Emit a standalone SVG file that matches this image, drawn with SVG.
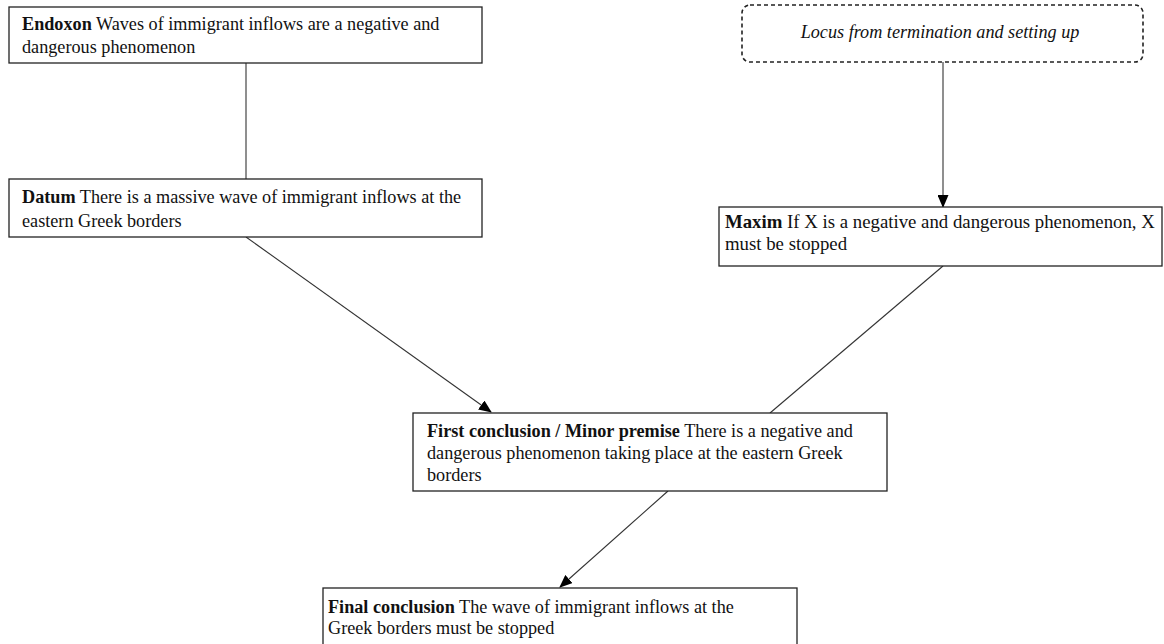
<svg xmlns="http://www.w3.org/2000/svg" width="1164" height="644" viewBox="0 0 1164 644">
<style>
.box{fill:#fff;stroke:#222;stroke-width:1.3}
.dash{fill:#fff;stroke:#222;stroke-width:1.6;stroke-dasharray:4,3}
.t{font-family:"Liberation Serif","Times New Roman",serif;font-size:18.2px;fill:#111}
.b{font-weight:bold}
.i{font-style:italic}
.c{stroke:#333;stroke-width:1.1;fill:none}
</style>
<defs>
<marker id="ah" markerWidth="13" markerHeight="11" refX="12" refY="5.5" orient="auto" markerUnits="userSpaceOnUse">
<path d="M0,0 L13,5.5 L0,11 z" fill="#000"/>
</marker>
</defs>
<g id="connectors">
<line class="c" x1="246" y1="63" x2="246" y2="179"/>
<line class="c" x1="943" y1="62" x2="943" y2="207" marker-end="url(#ah)"/>
<line class="c" x1="246" y1="237" x2="491" y2="412" marker-end="url(#ah)"/>
<line class="c" x1="943" y1="266" x2="770" y2="413"/>
<line class="c" x1="668" y1="491" x2="560" y2="587" marker-end="url(#ah)"/>
</g>
<g id="endoxon">
<rect class="box" x="9" y="7" width="473" height="56"/>
<text class="t" x="22" y="30"><tspan class="b">Endoxon</tspan> Waves of immigrant inflows are a negative and</text>
<text class="t" x="22" y="53">dangerous phenomenon</text>
</g>
<g id="locus">
<rect class="dash" x="742" y="5" width="401" height="57" rx="8" ry="8"/>
<text class="t i" x="940" y="38" text-anchor="middle">Locus from termination and setting up</text>
</g>
<g id="datum">
<rect class="box" x="9" y="179" width="473" height="58"/>
<text class="t" x="22" y="203"><tspan class="b">Datum</tspan> There is a massive wave of immigrant inflows at the</text>
<text class="t" x="22" y="227">eastern Greek borders</text>
</g>
<g id="maxim">
<rect class="box" x="719" y="207" width="443" height="59"/>
<text class="t" x="725" y="228" style="font-size:18.8px"><tspan class="b">Maxim</tspan> If X is a negative and dangerous phenomenon, X</text>
<text class="t" x="725" y="250" style="font-size:18.8px">must be stopped</text>
</g>
<g id="first">
<rect class="box" x="413" y="413" width="474" height="78"/>
<text class="t" x="427" y="437"><tspan class="b">First conclusion / Minor premise</tspan> There is a negative and</text>
<text class="t" x="427" y="459">dangerous phenomenon taking place at the eastern Greek</text>
<text class="t" x="427" y="481">borders</text>
</g>
<g id="final">
<rect class="box" x="323" y="588" width="474" height="60"/>
<text class="t" x="328" y="613"><tspan class="b">Final conclusion</tspan> The wave of immigrant inflows at the</text>
<text class="t" x="328" y="634">Greek borders must be stopped</text>
</g>
</svg>
